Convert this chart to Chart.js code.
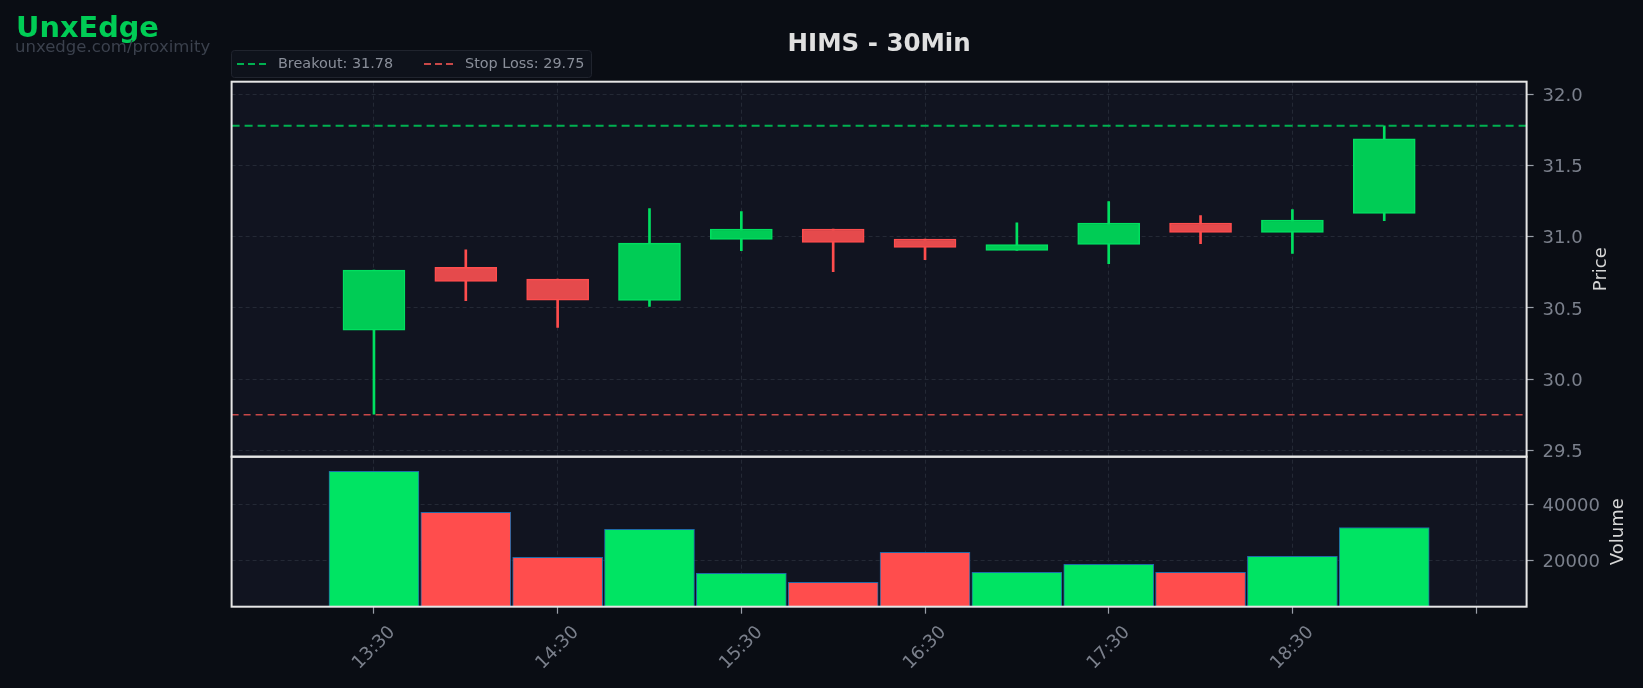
<!DOCTYPE html>
<html>
<head>
<meta charset="utf-8">
<script src="https://cdn.jsdelivr.net/npm/chart.js@4.4.1/dist/chart.umd.min.js"></script>
<style>
  html, body { margin: 0; padding: 0; background: #0a0d14; }
  #chart { display: block; }
</style>
</head>
<body>
<canvas id="chart" width="1643" height="688"></canvas>
<script>
// bars (30 min)
const times = ['13:30', '14:00', '14:30', '15:00', '15:30', '16:00', '16:30', '17:00', '17:30', '18:00', '18:30', '19:00'];
const opens  = [30.344, 30.785, 30.703, 30.553, 30.982, 31.055, 30.985, 30.905, 30.947, 31.097, 31.031, 31.165];
const highs  = [30.766, 30.909, 30.703, 31.198, 31.177, 31.055, 30.985, 31.099, 31.247, 31.149, 31.191, 31.780];
const lows   = [29.753, 30.551, 30.363, 30.511, 30.902, 30.755, 30.839, 30.905, 30.811, 30.952, 30.884, 31.113];
const closes = [30.766, 30.687, 30.555, 30.956, 31.055, 30.961, 30.926, 30.945, 31.097, 31.031, 31.118, 31.688];
const volumes = [51700, 37200, 21200, 31100, 15500, 12300, 23000, 15900, 18700, 15900, 21600, 31800];

const priceTicks = [29.5, 30.0, 30.5, 31.0, 31.5, 32.0];
const volumeTicks = [20000, 40000];
const xTickLabels = ['13:30', '14:30', '15:30', '16:30', '17:30', '18:30', ''];

const breakout = 31.78;
const stopLoss = 29.75;

const X_MIN = -1.55, X_MAX = 12.55;
const FONT = "'DejaVu Sans', sans-serif";
const GRID = '#242935';
const TICK_TXT = '#7b808c';

const isUp = times.map((t, i) => closes[i] >= opens[i]);
const wickCol = isUp.map(u => u ? '#00e060' : '#ff4d4d');
const bodyCol = isUp.map(u => u ? '#00cc55' : '#e54a4c');
const volCol = isUp.map(u => u ? '#00e463' : '#ff4d4d');

const levelLine = (label, value, color, dash, width) => ({
    type: 'line',
    label: label + ': ' + value.toFixed(2),
    data: [{x: X_MIN, y: value}, {x: X_MAX, y: value}],
    yAxisID: 'y',
    borderColor: color,
    borderWidth: width,
    borderDash: dash,
    pointRadius: 0,
    order: 0
});

const panelStuff = {
    id: 'panelStuff',
    beforeDraw(chart) {
        const {ctx, chartArea} = chart;
        ctx.save();
        ctx.fillStyle = '#111420';
        ctx.fillRect(chartArea.left, chartArea.top, chartArea.width, chartArea.height);
        ctx.restore();
    },
    afterDraw(chart) {
        const {ctx, chartArea, scales} = chart;
        ctx.save();

        // panel frames
        ctx.strokeStyle = '#e6e6e6';
        ctx.lineWidth = 2;
        [scales.y, scales.yv].forEach(s => {
            ctx.strokeRect(chartArea.left, s.top, chartArea.width, s.bottom - s.top);
        });

        // x labels, rotated and centred on their tick
        ctx.fillStyle = TICK_TXT;
        ctx.font = '18px ' + FONT;
        ctx.textAlign = 'center';
        ctx.textBaseline = 'middle';
        scales.x.ticks.forEach((t, i) => {
            const lbl = xTickLabels[i];
            if (!lbl) return;
            const px = scales.x.getPixelForValue(t.value);
            ctx.save();
            ctx.translate(px, 648);
            ctx.rotate(-Math.PI / 4);
            ctx.fillText(lbl, 0, 0);
            ctx.restore();
        });

        // axis titles
        ctx.fillStyle = '#d6d6d6';
        ctx.font = '18px ' + FONT;
        [[scales.y, 'Price', 1601], [scales.yv, 'Volume', 1618]].forEach(([s, txt, x]) => {
            ctx.save();
            ctx.translate(x, (s.top + s.bottom) / 2);
            ctx.rotate(-Math.PI / 2);
            ctx.fillText(txt, 0, 0);
            ctx.restore();
        });

        // title + watermark
        ctx.fillStyle = '#e0e0e0';
        ctx.font = 'bold 24.5px ' + FONT;
        ctx.textBaseline = 'alphabetic';
        ctx.fillText('HIMS - 30Min', (chartArea.left + chartArea.right) / 2, 51);

        ctx.textAlign = 'left';
        ctx.fillStyle = '#00cc55';
        ctx.font = 'bold 28.8px ' + FONT;
        ctx.fillText('UnxEdge', 16, 37);
        ctx.fillStyle = '#3b414d';
        ctx.font = '16.5px ' + FONT;
        ctx.fillText('unxedge.com/proximity', 15, 52);

        // legend box
        ctx.fillStyle = '#0e121b';
        ctx.strokeStyle = '#20242e';
        ctx.lineWidth = 1;
        ctx.beginPath();
        ctx.roundRect(231.5, 50.5, 360, 27, 3);
        ctx.fill();
        ctx.stroke();

        const legendItems = [[chart.data.datasets[3], 237, 278], [chart.data.datasets[4], 424, 465]];
        ctx.font = '14.4px ' + FONT;
        ctx.textBaseline = 'middle';
        legendItems.forEach(([ds, lx, tx]) => {
            ctx.strokeStyle = ds.borderColor;
            ctx.lineWidth = 2;
            ctx.setLineDash([7, 4]);
            ctx.beginPath();
            ctx.moveTo(lx, 64);
            ctx.lineTo(lx + 30, 64);
            ctx.stroke();
            ctx.setLineDash([]);
            ctx.fillStyle = '#8a8f9a';
            ctx.fillText(ds.label, tx, 64.5);
        });

        ctx.restore();
    }
};

const ctx = document.getElementById('chart');

new Chart(ctx, {
    type: 'bar',
    data: {
        datasets: [
            {
                label: 'wick',
                data: times.map((t, i) => ({x: i, y: [lows[i], highs[i]]})),
                yAxisID: 'y',
                backgroundColor: wickCol,
                barThickness: 2,
                grouped: false,
                order: 2
            },
            {
                label: 'body',
                data: times.map((t, i) => ({x: i, y: [opens[i], closes[i]]})),
                yAxisID: 'y',
                backgroundColor: bodyCol,
                borderColor: wickCol,
                borderWidth: 1.5,
                borderSkipped: false,
                barThickness: 62,
                grouped: false,
                order: 1
            },
            {
                label: 'volume',
                data: times.map((t, i) => ({x: i, y: volumes[i]})),
                yAxisID: 'yv',
                backgroundColor: volCol,
                borderColor: '#1f6aa8',
                borderWidth: 1,
                borderSkipped: false,
                barThickness: 90,
                grouped: false,
                order: 1
            },
            levelLine('Breakout', breakout, '#00b050', [8, 5], 2),
            levelLine('Stop Loss', stopLoss, '#c84848', [7, 5], 1.5)
        ]
    },
    options: {
        responsive: false,
        animation: false,
        devicePixelRatio: 1,
        layout: { padding: {left: 231.6, top: 81.7, right: 0, bottom: 0} },
        plugins: {
            legend: { display: false },
            tooltip: { enabled: false },
            title: { display: false }
        },
        scales: {
            x: {
                type: 'linear',
                position: 'bottom',
                offset: false,
                min: X_MIN,
                max: X_MAX,
                afterBuildTicks: s => { s.ticks = xTickLabels.map((l, i) => ({value: i * 2})); },
                afterFit: s => { s.height = 688 - 606.7; },
                ticks: { display: false },
                grid: { offset: false, color: GRID, lineWidth: 1, tickLength: 7, tickColor: '#9a9fa8', tickWidth: 1.2 },
                border: { display: false, dash: [4, 3] }
            },
            y: {
                type: 'linear',
                position: 'right',
                stack: 'panels',
                stackWeight: 2.5,
                min: 29.455,
                max: 32.09,
                afterBuildTicks: s => { s.ticks = priceTicks.map(v => ({value: v})); },
                afterFit: s => { s.width = 1643 - 1526.6; },
                ticks: {
                    callback: v => v.toFixed(1),
                    color: TICK_TXT,
                    font: {family: FONT, size: 18},
                    padding: 9,
                    labelOffset: 2,
                    autoSkip: false
                },
                grid: { color: GRID, lineWidth: 1, tickLength: 7, tickColor: '#9a9fa8', tickWidth: 1.2 },
                border: { display: false, dash: [4, 3] }
            },
            yv: {
                type: 'linear',
                position: 'right',
                stack: 'panels',
                stackWeight: 1,
                min: 3700,
                max: 56900,
                afterBuildTicks: s => { s.ticks = volumeTicks.map(v => ({value: v})); },
                afterFit: s => { s.width = 1643 - 1526.6; },
                ticks: {
                    callback: v => String(v),
                    color: TICK_TXT,
                    font: {family: FONT, size: 18},
                    padding: 9,
                    labelOffset: 2,
                    autoSkip: false
                },
                grid: { color: GRID, lineWidth: 1, tickLength: 7, tickColor: '#9a9fa8', tickWidth: 1.2 },
                border: { display: false, dash: [4, 3] }
            }
        }
    },
    plugins: [panelStuff]
});
</script>
</body>
</html>
